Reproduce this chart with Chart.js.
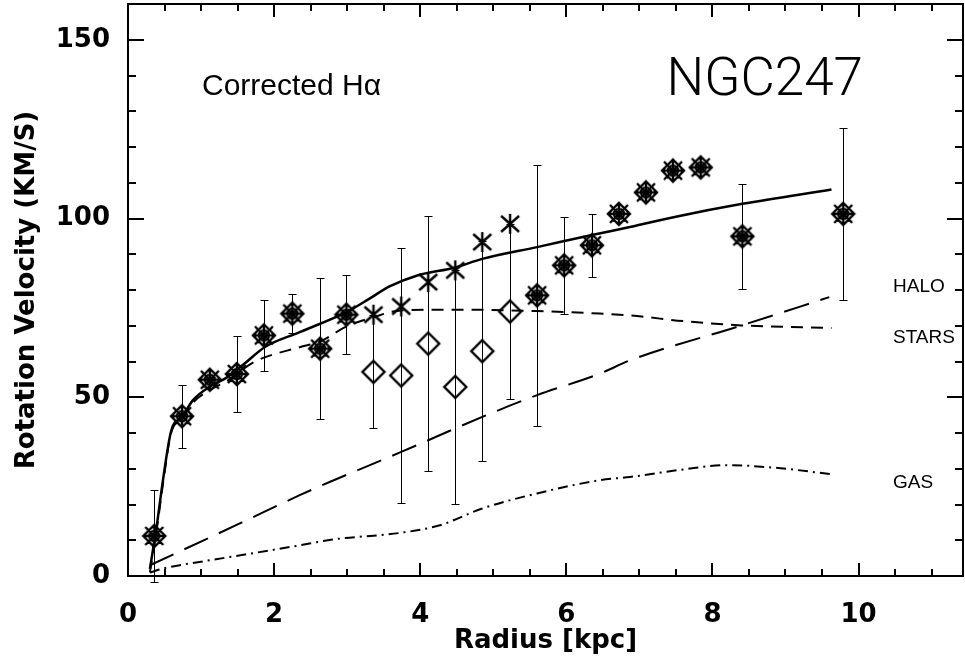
<!DOCTYPE html>
<html>
<head>
<meta charset="utf-8">
<script src="https://cdn.jsdelivr.net/npm/chart.js@4.4.0/dist/chart.umd.min.js"></script>
<style>
  html, body { margin: 0; padding: 0; background: #fff; }
</style>
</head>
<body>
<canvas id="chart" width="965" height="668"></canvas>
<script>
'use strict';

// model curves (radius in kpc, velocity in km/s)
let totalR = [0.30, 0.40, 0.48, 0.59, 0.74, 0.89, 1.12, 1.35, 1.60, 1.87, 2.35, 2.99, 3.30, 3.58, 3.95, 4.48, 4.85, 5.60, 6.35, 6.87, 7.50, 8.41, 9.63];
let totalV = [2, 15, 27, 40.5, 44.5, 49.2, 53, 55.5, 59.5, 64, 68.2, 73.8, 77.5, 81, 84, 86.3, 88.7, 92, 95.4, 97.6, 100.5, 104.1, 108.1];

let starsR = [0.30, 0.40, 0.48, 0.59, 0.74, 0.89, 1.12, 1.35, 1.73, 2.35, 2.62, 2.99, 3.36, 3.74, 4.50, 5.60, 6.46, 6.87, 7.60, 8.40, 9.63];
let starsV = [1, 14, 26, 40, 44, 48.5, 52, 54.5, 59.9, 64, 65.5, 69.8, 72.4, 74.3, 74.5, 74.1, 73.4, 72.9, 71.3, 70.1, 69.4];

let haloR = [0.30, 1.53, 2.35, 2.76, 3.74, 4.85, 5.60, 6.46, 6.87, 8.40, 9.60];
let haloV = [3, 14.7, 22.6, 26.3, 34.7, 44.5, 50.6, 56.6, 60.3, 70.1, 78];

let gasR = [0.30, 0.50, 1.00, 1.60, 2.30, 2.80, 3.74, 4.27, 4.85, 5.60, 6.46, 6.87, 7.60, 8.19, 8.90, 9.61];
let gasV = [1, 2.2, 4, 6, 8.4, 10.2, 12.1, 14.2, 18.9, 23.1, 26.8, 27.7, 29.8, 31, 30.2, 28.5];

// corrected H-alpha points (starred diamonds)
let obsR = [0.36, 0.74, 1.12, 1.49, 1.86, 2.25, 2.63, 2.99, 5.60, 5.97, 6.35, 6.72, 7.09, 7.46, 7.84, 8.41, 9.79];
let obsV = [11.2, 44.7, 54.9, 56.5, 67.3, 73.4, 63.6, 73.1, 78.5, 86.9, 92.5, 101.3, 107.3, 113.4, 114.3, 95.0, 101.3];
let obsErr = [12.8, 8.8, 0, 10.5, 10, 5.5, 19.8, 11, 36.6, 13.6, 8.8, 0, 0, 0, 0, 14.6, 24];

// asterisks and open diamonds
let astR = [3.36, 3.74, 4.11, 4.48, 4.85, 5.23];
let astV = [73.1, 75.4, 82.2, 85.5, 93.4, 98.5];
let diaR = [3.36, 3.74, 4.11, 4.48, 4.85, 5.23];
let diaV = [57.1, 56.1, 65.0, 52.9, 62.9, 74.0];
let diaErr = [15.8, 35.7, 35.6, 32.8, 30.8, 24.4];

let xTicks = [0, 2, 4, 6, 8, 10];
let yTicks = [0, 50, 100, 150];

function pts(xs, ys) {
  let out = [];
  for (let i = 0; i < xs.length; i++) {
    out.push({ x: xs[i], y: ys[i] });
  }
  return out;
}

function symbolCanvas(draw) {
  let c = document.createElement('canvas');
  c.width = 28;
  c.height = 28;
  let g = c.getContext('2d');
  g.translate(14, 14);
  g.strokeStyle = '#000';
  g.lineWidth = 2.4;
  g.beginPath();
  draw(g);
  g.stroke();
  return c;
}

let starDiamond = symbolCanvas(function (g) {
  g.moveTo(0, -11); g.lineTo(11, 0); g.lineTo(0, 11); g.lineTo(-11, 0); g.closePath();
  g.moveTo(0, -11); g.lineTo(0, 11);
  g.moveTo(-11, 0); g.lineTo(11, 0);
  g.moveTo(-9, -9); g.lineTo(9, 9);
  g.moveTo(9, -9); g.lineTo(-9, 9);
  g.moveTo(5, 0); g.arc(0, 0, 5, 0, Math.PI * 2);
});

let asterisk = symbolCanvas(function (g) {
  g.moveTo(0, -10); g.lineTo(0, 10);
  g.moveTo(-9, -8); g.lineTo(9, 8);
  g.moveTo(9, -8); g.lineTo(-9, 8);
});

let openDiamond = symbolCanvas(function (g) {
  g.moveTo(0, -11); g.lineTo(11, 0); g.lineTo(0, 11); g.lineTo(-11, 0); g.closePath();
});

// error bars drawn from each dataset's errors array
let errorBars = {
  id: 'errorBars',
  beforeDatasetsDraw(chart) {
    let ctx = chart.ctx;
    let xs = chart.scales.x;
    let ys = chart.scales.y;
    ctx.save();
    ctx.strokeStyle = '#000';
    ctx.lineWidth = 1;
    chart.data.datasets.forEach(function (ds) {
      if (!ds.errors) return;
      ds.data.forEach(function (p, i) {
        let e = ds.errors[i];
        if (!e) return;
        let px = Math.round(xs.getPixelForValue(p.x)) + 0.5;
        let top = Math.round(ys.getPixelForValue(p.y + e)) + 0.5;
        let bot = Math.round(ys.getPixelForValue(p.y - e)) + 0.5;
        ctx.beginPath();
        ctx.moveTo(px, top); ctx.lineTo(px, bot);
        ctx.moveTo(px - 4, top); ctx.lineTo(px + 4, top);
        ctx.moveTo(px - 4, bot); ctx.lineTo(px + 4, bot);
        ctx.stroke();
      });
    });
    ctx.restore();
  }
};

// box with inward ticks on all four sides, plus the text labels
let frame = {
  id: 'frame',
  afterDraw(chart) {
    let ctx = chart.ctx;
    let a = chart.chartArea;
    let xs = chart.scales.x;
    let ys = chart.scales.y;
    ctx.save();
    ctx.strokeStyle = '#000';
    ctx.lineWidth = 2;
    ctx.strokeRect(a.left, a.top, a.right - a.left, a.bottom - a.top);

    ctx.beginPath();
    for (let v = 0; v <= xs.max + 1e-6; v += 0.5) {
      let px = Math.round(xs.getPixelForValue(v));
      let len = (v % 2 === 0) ? 13 : 7;
      ctx.moveTo(px, a.bottom); ctx.lineTo(px, a.bottom - len);
      ctx.moveTo(px, a.top); ctx.lineTo(px, a.top + len);
    }
    for (let v = 0; v <= ys.max + 1e-6; v += 10) {
      let py = Math.round(ys.getPixelForValue(v));
      let len = (v % 50 === 0) ? 16 : 8;
      ctx.moveTo(a.left, py); ctx.lineTo(a.left + len, py);
      ctx.moveTo(a.right, py); ctx.lineTo(a.right - len, py);
    }
    ctx.stroke();

    ctx.fillStyle = '#000';
    ctx.textBaseline = 'alphabetic';
    ctx.textAlign = 'left';
    ctx.font = '30px "Liberation Sans"';
    ctx.fillText('Corrected H\u03b1', 202, 95);

    ctx.textAlign = 'right';
    ctx.font = '300 53px Roboto';
    ctx.fillText('NGC247', 863, 95);

    ctx.textAlign = 'left';
    ctx.font = '19px "Liberation Sans"';
    ctx.fillText('HALO', 893, 292);
    ctx.fillText('STARS', 893, 343);
    ctx.fillText('GAS', 893, 488);
    ctx.restore();
  }
};

// Chart.js reserves room for end labels; the labels here sit well inside
function noPad(scale) {
  scale.paddingTop = 0;
  scale.paddingBottom = 0;
  scale.paddingLeft = 0;
  scale.paddingRight = 0;
}

let canvasElem = document.getElementById('chart');

function lineSet(xs, ys, width, dash) {
  return {
    data: pts(xs, ys),
    showLine: true,
    borderColor: '#000',
    borderWidth: width,
    borderDash: dash,
    pointRadius: 0,
    cubicInterpolationMode: 'monotone',
    fill: false
  };
}

let chartObj = {
  type: 'scatter',
  data: {
    datasets: [
      lineSet(totalR, totalV, 2.5, []),
      lineSet(starsR, starsV, 2, [12, 8]),
      lineSet(haloR, haloV, 2, [26, 12]),
      lineSet(gasR, gasV, 2, [10, 5, 2, 5]),
      {
        data: pts(obsR, obsV),
        errors: obsErr,
        pointStyle: starDiamond,
        pointRadius: 11
      },
      {
        data: pts(astR, astV),
        pointStyle: asterisk,
        pointRadius: 10
      },
      {
        data: pts(diaR, diaV),
        errors: diaErr,
        pointStyle: openDiamond,
        pointRadius: 11
      }
    ]
  },
  options: {
    responsive: false,
    animation: false,
    devicePixelRatio: 1,
    layout: {
      autoPadding: false,
      padding: { top: 4, right: 2, left: 0, bottom: 0 }
    },
    plugins: {
      legend: { display: false },
      tooltip: { enabled: false }
    },
    scales: {
      x: {
        type: 'linear',
        min: 0,
        max: 11.43,
        afterBuildTicks: function (scale) {
          scale.ticks = xTicks.map(function (v) { return { value: v }; });
        },
        afterFit: function (scale) {
          scale.height = 92;
          noPad(scale);
        },
        grid: { display: false },
        border: { display: false },
        ticks: {
          color: '#000',
          padding: 16,
          maxRotation: 0,
          font: { family: '"DejaVu Sans"', size: 26, weight: 'bold' }
        },
        title: {
          display: true,
          text: 'Radius [kpc]',
          color: '#000',
          padding: { top: 0, bottom: 11 },
          font: { family: '"DejaVu Sans"', size: 26, weight: 'bold' }
        }
      },
      y: {
        type: 'linear',
        min: 0,
        max: 160,
        afterBuildTicks: function (scale) {
          scale.ticks = yTicks.map(function (v) { return { value: v }; });
        },
        afterFit: function (scale) {
          scale.width = 128;
          noPad(scale);
        },
        grid: { display: false },
        border: { display: false },
        ticks: {
          color: '#000',
          padding: 10,
          font: { family: '"DejaVu Sans"', size: 26, weight: 'bold' }
        },
        title: {
          display: true,
          text: 'Rotation Velocity (KM/S)',
          color: '#000',
          padding: { top: 12, bottom: 0 },
          font: { family: '"DejaVu Sans"', size: 26, weight: 'bold' }
        }
      }
    }
  },
  plugins: [errorBars, frame]
};

new Chart(canvasElem, chartObj);
</script>
</body>
</html>
